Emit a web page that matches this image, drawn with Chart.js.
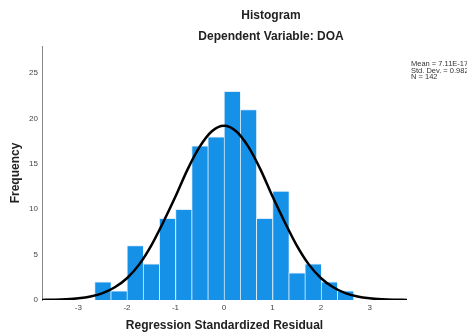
<!DOCTYPE html>
<html>
<head>
<meta charset="utf-8">
<script src="https://cdn.jsdelivr.net/npm/chart.js@4"></script>
<style>
  html, body { margin: 0; padding: 0; background: #fff; }
  #wrap { width: 467px; height: 333px; }
</style>
</head>
<body>
<div id="wrap"><canvas id="hist"></canvas></div>
<script>
  // bins (centres) and counts
  const binCentres = [-2.5, -2.167, -1.833, -1.5, -1.167, -0.833, -0.5, -0.167,
                      0.167, 0.5, 0.833, 1.167, 1.5, 1.833, 2.167, 2.5];
  const counts = [2, 1, 6, 4, 9, 10, 17, 18, 23, 21, 9, 12, 3, 4, 2, 1];

  // normal curve, points
  const curveX = [-3.75, -3.5, -3.25, -3, -2.75, -2.5, -2.25, -2, -1.75, -1.5, -1.25, -1, -0.75, -0.5, -0.25, 0,
                  0.25, 0.5, 0.75, 1, 1.25, 1.5, 1.75, 2, 2.25, 2.5, 2.75, 3, 3.25, 3.5, 3.77];
  const curveY = [0.01, 0.03, 0.08, 0.18, 0.38, 0.75, 1.4, 2.4, 3.9, 6.0, 8.6, 11.4, 14.4, 16.9, 18.6, 19.2,
                  18.6, 16.9, 14.4, 11.4, 8.6, 6.0, 3.9, 2.4, 1.4, 0.75, 0.38, 0.18, 0.08, 0.03, 0.01];

  const xTicks = [-3, -2, -1, 0, 1, 2, 3];
  const statLines = ['Mean = 7.11E-17', 'Std. Dev. = 0.982', 'N = 142'];

  const FONT = '"Liberation Sans", Arial, sans-serif';

  const textPlugin = {
    id: 'textPlugin',
    afterDraw(chart) {
      const ctx = chart.ctx;
      ctx.save();
      ctx.fillStyle = '#222';
      ctx.textAlign = 'center';
      ctx.textBaseline = 'middle';
      ctx.font = 'bold 12px ' + FONT;
      ctx.fillText('Histogram', 271, 16);
      ctx.fillText('Dependent Variable: DOA', 271, 37);
      ctx.font = '7.5px ' + FONT;
      ctx.textAlign = 'left';
      ctx.fillStyle = '#333';
      statLines.forEach((s, i) => ctx.fillText(s, 411, 64 + i * 6.5));
      ctx.restore();
    }
  };

  const graph = document.getElementById('hist');
  const myChart = new Chart(graph, {
    type: 'bar',
    data: {
      datasets: [{
        type: 'bar',
        label: 'Frequency',
        data: binCentres.map((c, i) => ({ x: c, y: counts[i] })),
        backgroundColor: '#1591e8',
        borderColor: '#dcecfa',
        borderWidth: { top: 1, left: 1, right: 0, bottom: 0 },
        borderSkipped: false,
        barPercentage: 1,
        categoryPercentage: 1,
        order: 2
      }, {
        type: 'line',
        label: 'Normal',
        data: curveX.map((x, i) => ({ x: x, y: curveY[i] })),
        borderColor: '#000',
        borderWidth: 2.5,
        pointRadius: 0,
        fill: false,
        cubicInterpolationMode: 'monotone',
        order: 1
      }]
    },
    options: {
      responsive: true,
      maintainAspectRatio: false,
      animation: false,
      layout: { padding: { left: 0, right: 60, top: 46, bottom: 0 } },
      plugins: {
        legend: { display: false },
        tooltip: { enabled: false }
      },
      scales: {
        x: {
          type: 'linear',
          offset: false,
          min: -3.75,
          max: 3.77,
          afterBuildTicks: (s) => { s.ticks = xTicks.map(v => ({ value: v })); },
          afterFit: (s) => { s.height = 33; },
          grid: { display: false, drawTicks: false, offset: false },
          border: { display: false },
          ticks: { padding: 3, color: '#444', font: { family: FONT, size: 8 } },
          title: {
            display: true,
            text: 'Regression Standardized Residual',
            color: '#222',
            font: { family: FONT, size: 12, weight: 'bold' },
            padding: { top: 0, bottom: 0 }
          }
        },
        y: {
          min: 0,
          max: 28,
          afterFit: (s) => { s.width = 42; },
          afterBuildTicks: (s) => { s.ticks = [0, 5, 10, 15, 20, 25].map(v => ({ value: v })); },
          grid: { display: false, drawTicks: false },
          border: { display: true, color: '#888', width: 1 },
          ticks: { padding: 4, color: '#444', font: { family: FONT, size: 8 } },
          title: {
            display: true,
            text: 'Frequency',
            color: '#222',
            font: { family: FONT, size: 12, weight: 'bold' },
            padding: { top: 8, bottom: 0 }
          }
        }
      }
    },
    plugins: [textPlugin]
  });
</script>
</body>
</html>
